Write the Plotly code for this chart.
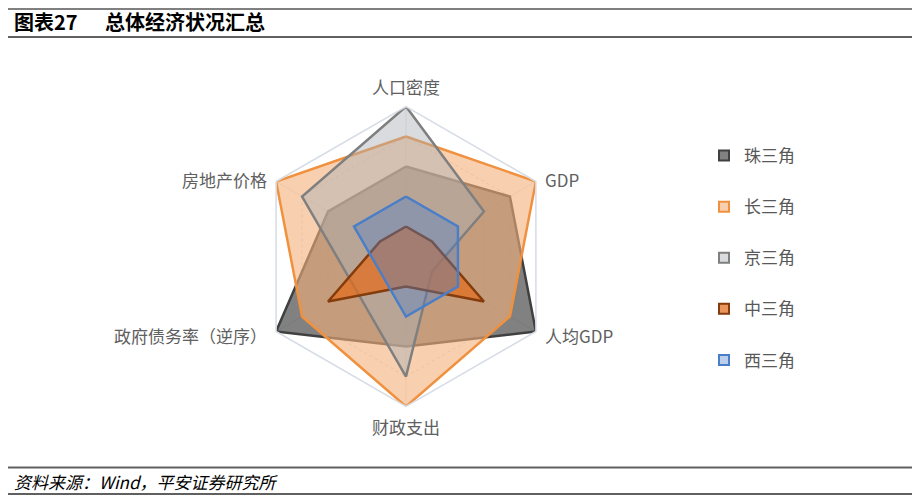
import math
import plotly.graph_objects as go

# axes of the radar, clockwise from the top
categories = ["人口密度", "GDP", "人均GDP", "财政支出", "政府债务率（逆序）", "房地产价格"]

# normalised scores (0-1)
zhu = [0.6, 0.8, 1.0, 0.6, 1.0, 0.6]
chang = [0.8, 1.0, 0.8, 1.0, 0.8, 1.0]
jing = [1.0, 0.6, 0.2, 0.8, 0.4, 0.8]
zhong = [0.2, 0.2, 0.6, 0.2, 0.6, 0.2]
xi = [0.4, 0.4, 0.4, 0.4, 0.2, 0.4]

series = [
    ("珠三角", zhu, "#404040", "rgba(64,64,64,0.66)"),
    ("长三角", chang, "#F0913F", "rgba(244,177,122,0.6)"),
    ("京三角", jing, "#7F7F7F", "rgba(170,175,182,0.45)"),
    ("中三角", zhong, "#843C0C", "rgba(226,108,28,0.72)"),
    ("西三角", xi, "#4A7EC7", "rgba(80,125,200,0.38)"),
]

# the page body adds an 8px margin, so work in page pixels and shift
OFF = 8
W, H = 923 - OFF, 501 - OFF
cx, cy, R = 406 - OFF, 256.5 - OFF, 150


def px(x):
    return (x - OFF) / W


def py(y):
    return 1 - (y - OFF) / H


fig = go.Figure()

for name, vals, line_c, fill_c in series:
    fig.add_trace(go.Scatterpolar(
        r=vals + vals[:1],
        theta=categories + categories[:1],
        mode="lines",
        fill="toself",
        fillcolor=fill_c,
        line=dict(color=line_c, width=2.5),
        name=name,
        showlegend=False,
        hoverinfo="skip",
    ))

# legend entries as small squares
for name, vals, line_c, fill_c in series:
    fig.add_trace(go.Scatterpolar(
        r=[None],
        theta=[categories[0]],
        mode="markers",
        marker=dict(symbol="square", size=10, color=fill_c,
                    line=dict(color=line_c, width=2)),
        name=name,
        legendgroup=name,
        showlegend=True,
    ))

fig.update_layout(
    width=W,
    height=H,
    margin=dict(l=0, r=0, t=0, b=0),
    paper_bgcolor="white",
    plot_bgcolor="white",
    font=dict(family="Noto Sans CJK SC", size=14, color="#595959"),
    polar=dict(
        domain=dict(
            x=[(cx - R) / W, (cx + R) / W],
            y=[(H - cy - R) / H, (H - cy + R) / H],
        ),
        bgcolor="white",
        gridshape="linear",
        radialaxis=dict(
            range=[0, 1],
            dtick=0.2,
            showticklabels=False,
            ticks="",
            showline=False,
            gridcolor="#DCDCDC",
            griddash="dot",
            gridwidth=1,
        ),
        angularaxis=dict(
            rotation=90,
            direction="clockwise",
            showline=True,
            linecolor="#D6DCE5",
            linewidth=1.5,
            gridcolor="#EAEAEA",
            ticks="",
            showticklabels=False,
        ),
    ),
    legend=dict(
        x=696 / W,
        y=1 - 130 / H,
        xanchor="left",
        yanchor="top",
        font=dict(size=17, color="#595959"),
        tracegroupgap=26,
        itemwidth=30,
        bgcolor="rgba(0,0,0,0)",
    ),
)

# category labels placed just outside each spoke
for k, cat in enumerate(categories):
    ang = math.radians(90 - 60 * k)
    vx = cx + R * math.cos(ang)
    vy = cy - R * math.sin(ang)
    if k == 0:
        x, y, xa = vx, vy - 20, "center"
    elif k == 3:
        x, y, xa = vx, vy + 20, "center"
    elif k in (1, 2):
        x, y, xa = vx + 7, vy + (-2 if k == 1 else 4), "left"
    else:
        x, y, xa = vx - 7, vy + (4 if k == 4 else -2), "right"
    fig.add_annotation(
        text=cat, xref="paper", yref="paper",
        x=x / W, y=1 - y / H, xanchor=xa, yanchor="middle",
        showarrow=False, font=dict(size=17, color="#606060"),
    )

# header and footer rules
rules = [(9, "#000000", 1), (37, "#606060", 2), (467.5, "#606060", 2), (494, "#606060", 2)]
for y, col, w in rules:
    fig.add_shape(type="line", xref="paper", yref="paper",
                  x0=px(8), x1=px(912), y0=py(y), y1=py(y),
                  line=dict(color=col, width=w))

fig.add_annotation(
    text="<b>图表27</b>",
    xref="paper", yref="paper", x=px(12), y=py(21),
    xanchor="left", yanchor="middle", showarrow=False,
    font=dict(family="Noto Sans CJK SC", size=20, color="#000000"),
)
fig.add_annotation(
    text="<b>总体经济状况汇总</b>",
    xref="paper", yref="paper", x=px(103), y=py(21),
    xanchor="left", yanchor="middle", showarrow=False,
    font=dict(family="Noto Sans CJK SC", size=20, color="#000000"),
)
fig.add_annotation(
    text="<i>资料来源：Wind，平安证券研究所</i>",
    xref="paper", yref="paper", x=px(12), y=py(481),
    xanchor="left", yanchor="middle", showarrow=False,
    font=dict(family="Noto Sans CJK SC", size=17, color="#000000"),
)

fig.write_html("out.html")
